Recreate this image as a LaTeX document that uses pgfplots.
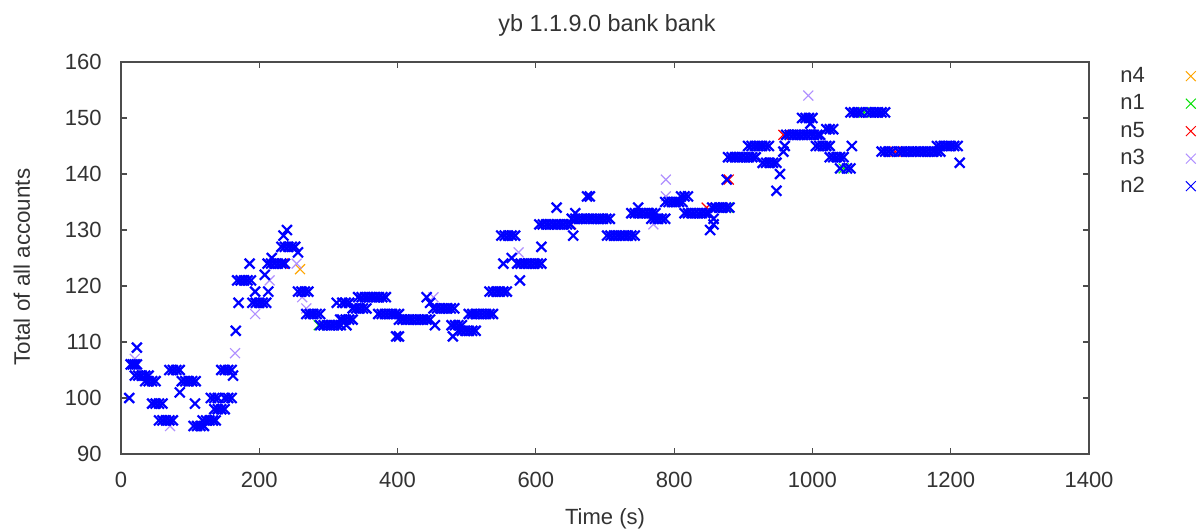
\documentclass[border=0pt]{standalone}
\usepackage{fontspec}
\setmainfont{Liberation Sans}
\usepackage{pgfplots}
\pgfplotsset{compat=1.18}
\definecolor{cnfour}{HTML}{FFA500}
\definecolor{cnone}{HTML}{00E000}
\definecolor{cnfive}{HTML}{FF0000}
\definecolor{cnthree}{HTML}{B090FF}
\definecolor{cntwo}{HTML}{0000FF}
\definecolor{txt}{HTML}{333333}
\begin{document}
\begin{tikzpicture}[font=\fontsize{11}{13}\selectfont, text=txt]
\useasboundingbox (-60.5pt,-38.5pt) rectangle (540.5pt,227pt);
\begin{axis}[
    at={(0,0)}, anchor=south west,
    scale only axis,
    width=484pt, height=196pt,
    xmin=0, xmax=1400, ymin=90, ymax=160,
    xtick={0,200,...,1400},
    ytick={90,100,...,160},
    axis line style={black!70, line width=0.6pt},
    major tick style={black!70, line width=0.6pt},
    major tick length=3pt,
    tick align=inside,
    /pgf/number format/assume math mode=true,
    /pgf/number format/1000 sep={},
    tick label style={font=\fontsize{11}{13}\selectfont, text=txt},
    xticklabel style={anchor=base, inner sep=0pt, yshift=-16.5pt},
    yticklabel style={anchor=east, inner sep=0pt, xshift=-9.5pt},
    legend plot pos=right,
    legend cell align=left,
    legend style={at={(1.032,1)}, anchor=north west, draw=none, fill=none,
        inner sep=0pt, row sep=0pt, column sep=20.5pt,
        nodes={inner sep=0pt, minimum height=13.75pt, text=txt,
               font=\fontsize{11}{13}\selectfont}},
    legend entries={n4,n1,n5,n3,n2},
]
\addlegendimage{only marks, mark=x, mark size=3.5pt, line width=0.5pt, color=cnfour}
\addlegendimage{only marks, mark=x, mark size=3.5pt, line width=0.5pt, color=cnone}
\addlegendimage{only marks, mark=x, mark size=3.5pt, line width=0.5pt, color=cnfive}
\addlegendimage{only marks, mark=x, mark size=3.5pt, line width=0.5pt, color=cnthree}
\addlegendimage{only marks, mark=x, mark size=3.5pt, line width=0.5pt, color=cntwo}

% n4
\addplot[forget plot, only marks, mark=x, mark size=3.5pt, line width=0.6pt, color=cnfour]
coordinates {(259,123)};

% n1
\addplot[forget plot, only marks, mark=x, mark size=3.5pt, line width=0.6pt, color=cnone]
coordinates {(286,113) (878,134) (1045,141) (1075,151)};

% n5
\addplot[forget plot, only marks, mark=x, mark size=3.5pt, line width=0.6pt, color=cnfive]
coordinates {(234,124) (651,131) (847,134) (879,139) (958,147) (1120,144)};

% n3
\addplot[forget plot, only marks, mark=x, mark size=3.5pt, line width=0.6pt, color=cnthree]
coordinates {(20,107) (71,95) (165,108) (194,115) (215,121) (254,124) (262,118)
 (268,116) (452,118) (575,126) (608,127) (770,131) (788,139) (788,136)
 (994,154) (1020,148)};

% n2
\addplot[forget plot, only marks, mark=x, mark size=3.5pt, line width=1.1pt, color=cntwo]
coordinates {
(12,100)
(14,106)(17,106)(20,106)(23,106)
(23,109)
(20,104)(25,104)(30,104)(35,104)(40,104)
(35,103)(40,103)(45,103)(50,103)
(45,99)(50,99)(55,99)(60,99)
(55,96)(60,96)(65,96)(70,96)(75,96)
(70,105)(75,105)(80,105)(85,105)
(85,101)
(88,103)(93,103)(98,103)(103,103)(108,103)
(107,99)
(105,95)(110,95)(115,95)(120,95)
(118,96)(123,96)(128,96)(133,96)(137,96)
(130,100)(135,100)(140,100)(150,100)(155,100)(160,100)
(135,98)(140,98)(145,98)(150,98)
(145,105)(150,105)(155,105)(160,105)
(162,104)
(166,112)
(170,117)
(168,121)(173,121)(178,121)(183,121)(188,121)
(186,124)
(194,119)
(190,117)(195,117)(200,117)(205,117)(210,117)
(213,119)
(208,122)
(212,124)(217,124)(222,124)(227,124)(232,124)(237,124)
(218,125)
(235,129)(240,130)
(232,127)(237,127)(242,127)(247,127)(252,127)
(256,126)
(256,119)(261,119)(266,119)(271,119)
(268,115)(273,115)(278,115)(283,115)(288,115)
(288,113)(293,113)(298,113)(303,113)(308,113)(313,113)(318,113)
(312,117)(317,114)
(320,117)(325,117)(330,117)
(320,114)(325,114)(330,114)(335,114)
(326,113)
(335,116)(340,116)(345,116)(350,116)(355,116)
(343,118)(348,118)(353,118)(358,118)(363,118)(368,118)(373,118)(378,118)(383,118)
(372,115)(377,115)(382,115)(387,115)(392,115)(397,115)(402,115)
(402,114)(407,114)(412,114)(417,114)(422,114)(427,114)(432,114)(437,114)(442,114)(447,114)
(398,111)(402,111)
(442,118)(447,117)
(452,116)(457,116)(462,116)(467,116)(472,116)(477,116)(482,116)
(454,113)
(478,113)(483,113)(488,113)(493,113)
(480,111)
(488,112)(493,112)(498,112)(503,112)(508,112)(513,112)
(503,115)(508,115)(513,115)(518,115)(523,115)(528,115)(533,115)(538,115)
(533,119)(538,119)(543,119)(548,119)(553,119)(558,119)
(550,129)(555,129)(560,129)(565,129)(570,129)
(553,124)
(565,125)
(573,124)(578,124)(583,124)(588,124)(593,124)(598,124)(603,124)(608,124)
(577,121)
(608,127)
(605,131)(610,131)(615,131)(620,131)(625,131)(630,131)(635,131)(640,131)(645,131)(650,131)
(630,134)
(654,129)
(657,133)
(652,132)(657,132)(662,132)(667,132)(672,132)(677,132)(682,132)(687,132)(692,132)(697,132)(702,132)(707,132)
(674,136)(678,136)
(703,129)(708,129)(713,129)(718,129)(723,129)(728,129)(733,129)(738,129)(743,129)
(738,133)(743,133)(748,133)(753,133)(758,133)(763,133)(768,133)(773,133)
(748,134)
(767,132)(772,132)(777,132)(782,132)(787,132)
(787,135)(792,135)(797,135)(802,135)(807,135)(812,135)
(810,136)(815,136)(820,136)
(815,133)(820,133)(825,133)(830,133)(835,133)(840,133)(845,133)(850,133)
(852,130)
(857,132)(857,131)
(855,134)(860,134)(865,134)(870,134)(875,134)(880,134)
(876,139)
(878,143)(883,143)(888,143)(893,143)(898,143)(903,143)(908,143)(913,143)(918,143)
(907,145)(912,145)(917,145)(922,145)(927,145)(932,145)(937,145)
(928,142)(933,142)(938,142)(943,142)(948,142)
(948,137)
(953,140)
(958,144)(960,145)
(962,147)(967,147)(972,147)(977,147)(982,147)(987,147)(992,147)(997,147)(1002,147)(1007,147)(1011,147)
(985,150)(990,150)(995,150)(1000,150)
(997,149)
(1005,145)(1010,145)(1015,145)(1020,145)(1025,145)
(1020,148)(1025,148)(1030,148)
(1025,143)(1030,143)(1035,143)(1040,143)(1045,143)
(1040,141)(1050,141)(1055,141)
(1057,145)
(1055,151)(1060,151)(1065,151)(1070,151)(1080,151)(1085,151)(1090,151)(1095,151)(1100,151)(1105,151)
(1100,144)(1105,144)(1110,144)(1115,144)(1125,144)(1130,144)(1135,144)(1140,144)(1145,144)
(1150,144)(1155,144)(1160,144)(1165,144)(1170,144)(1175,144)(1180,144)(1185,144)
(1180,145)(1185,145)(1190,145)(1195,145)(1200,145)(1205,145)(1210,145)
(1213,142)
};
\end{axis}
\node[anchor=base] at (243pt,211pt) {\fontsize{11.7}{14}\selectfont yb 1.1.9.0 bank bank};
\node[anchor=base] at (242pt,-35pt) {Time (s)};
\node[anchor=base, rotate=90] at (-45.5pt,93.5pt) {\fontsize{11.2}{13}\selectfont Total of all accounts};
\end{tikzpicture}
\end{document}
